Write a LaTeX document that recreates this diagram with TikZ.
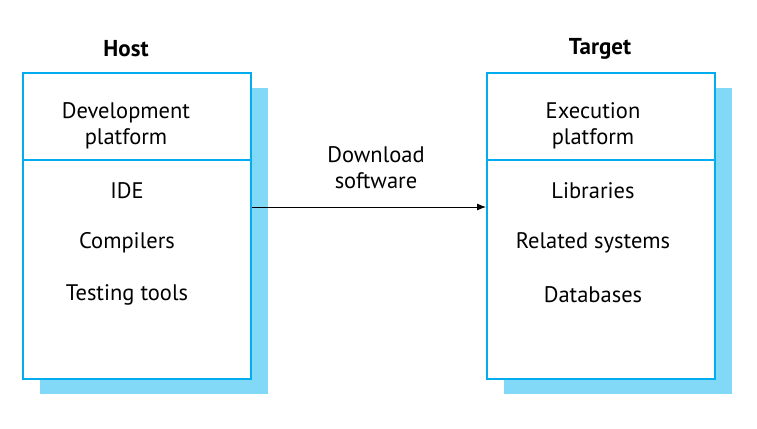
\documentclass[tikz,border=0pt]{standalone}
\usepackage{fontspec}
\setmainfont{PT Sans}
\usetikzlibrary{arrows.meta}
\definecolor{boxline}{HTML}{00AEEF}
\definecolor{boxshadow}{HTML}{82D8F7}
\begin{document}
\begin{tikzpicture}[x=1pt,y=-1pt,
  txt/.style={font=\fontsize{22.5}{26}\selectfont, align=center, inner sep=0pt},
  hdr/.style={font=\bfseries\fontsize{23}{26}\selectfont, inner sep=0pt},
  frame/.style={draw=boxline, line width=2pt, fill=white},
  shade/.style={fill=boxshadow, draw=none}]
\useasboundingbox (0,0) rectangle (757,428);
% Host
\fill[shade] (40,88) rectangle (268,394);
\node[frame, minimum width=228pt, minimum height=306pt, anchor=north west, inner sep=0pt] (host) at (22,72) {};
\draw[boxline, line width=2pt] (22,160) coordinate (hl) -- (250,160) coordinate (hr);
\node[hdr] (hostlbl) at (126,49) {Host};
\node[txt] (dev) at (126,126) {Development\\platform};
\node[txt] (ide) at (127,191) {IDE};
\node[txt] (comp) at (127,243) {Compilers};
\node[txt] (test) at (127,295) {Testing tools};
% Target
\fill[shade] (504,88) rectangle (732,394);
\node[frame, minimum width=228pt, minimum height=306pt, anchor=north west, inner sep=0pt] (target) at (486,72) {};
\draw[boxline, line width=2pt] (486,160) coordinate (tl) -- (714,160) coordinate (tr);
\node[hdr] (targetlbl) at (600,49) {Target};
\node[txt] (exe) at (593,126) {Execution\\platform};
\node[txt] (lib) at (593,191) {Libraries};
\node[txt] (rel) at (593,243) {Related systems};
\node[txt] (db) at (593,295) {Databases};
% arrow
\draw[-{Latex[length=9pt,width=7pt]}, line width=0.8pt] (host.east |- 0,207) -- (target.west |- 0,207);
\node[txt] (dl) at (376,168) {Download\\software};
\end{tikzpicture}
\end{document}
